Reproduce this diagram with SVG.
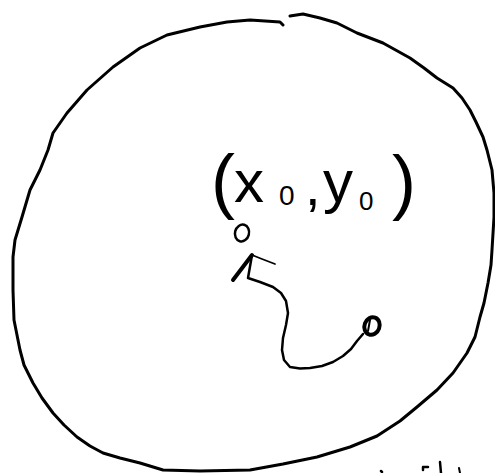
<svg xmlns="http://www.w3.org/2000/svg" width="495" height="473" viewBox="0 0 495 473">
<style>
.ink{fill:none;stroke:#000;stroke-linecap:round;stroke-linejoin:round}
.hand{font-family:"Liberation Sans","DejaVu Sans",sans-serif;fill:#000}
</style>
<rect width="495" height="473" fill="#fff"/>
<g id="region">
<path class="ink" stroke-width="3" d="M283,25 L280,22 L250,20 L227,22 L200,27 L167,35 L140,48 L113,67 L87,90 L67,113 L53,133 L48,150 L40,170 L30,190 L22,217 L15,240 L13,257 L13,290 L14,320 L16,330 L20,350 L24,365 L33,383 L42,398 L53,413 L64,425 L77,437 L90,446 L103,453 L120,458 L140,463 L163,470 L200,471 L250,470 L283,464 L317,457 L350,447 L377,436 L400,421 L417,407 L437,390 L453,373 L467,353 L475,337 L480,317 L484,303 L488,283 L491,265 L492,250 L494,217 L494,193 L492,170 L487,150 L483,137 L476,122 L470,110 L462,98 L453,88 L437,78 L424,68 L410,58 L383,43 L357,33 L337,23 L320,18 L303,14 L290,16"/>
</g>
<g id="label">
<text class="hand"><tspan x="211" y="205" font-size="72">(</tspan><tspan x="234" y="202" font-size="60">x</tspan><tspan x="279" y="205" font-size="28">0</tspan><tspan x="305" y="205" font-size="56">,</tspan><tspan x="323" y="202" font-size="60">y</tspan><tspan x="359" y="210" font-size="26">0</tspan><tspan x="392" y="206" font-size="72">)</tspan></text>
</g>
<g id="target">
<ellipse class="ink" stroke-width="2.5" cx="242" cy="233" rx="7" ry="8.5" transform="rotate(15 242 233)"/>
</g>
<g id="start">
<ellipse class="ink" stroke-width="4" cx="372" cy="326" rx="7.5" ry="9" transform="rotate(20 372 326)"/>
<path class="ink" stroke-width="2" d="M370,320 L368,331"/>
</g>
<g id="connectors">
<path class="ink" stroke-width="2.5" d="M252,255 L248,278 L260,282 L273,287 L281,293 L286,301 L288,313 L286,325 L283,338 L282,350 L284,360 L290,367 L300,368.5 L310,368 L322,366 L333,362 L343,356 L351,349 L357,341 L363,334"/>
<path class="ink" stroke-width="4" d="M252,255 L233,280"/>
<path class="ink" stroke-width="1.8" d="M252,255 L262,259 L275,264"/>
</g>
<g id="edge-marks">
<path class="ink" stroke-width="2.5" d="M381,471 L382,472"/>
<path class="ink" stroke-width="2.5" d="M423,470 L423,467 L428,467"/>
<path class="ink" stroke-width="2.5" d="M440,462 L441,473"/>
<path class="ink" stroke-width="2" d="M459,468 L460,473"/>
</g>
</svg>
